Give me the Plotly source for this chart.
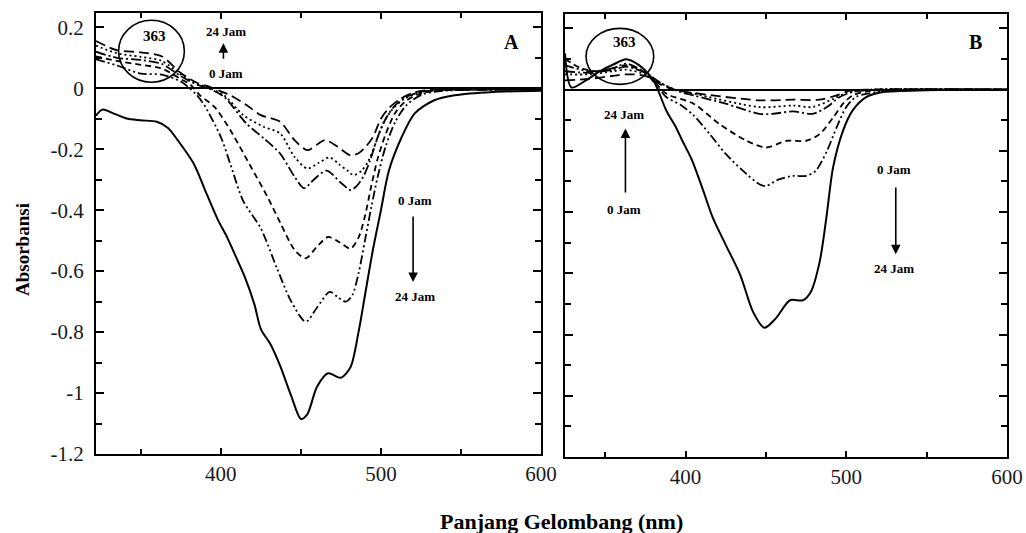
import plotly.graph_objects as go

# ---------------- Panel A data ----------------
A_solid_x = [322, 326, 334, 341, 350, 360, 367, 373, 383, 391, 398, 404, 410, 415, 421, 425, 431, 437, 444, 450,
             454, 460, 467, 475, 481, 486, 490, 495, 500, 505, 513, 521, 533, 546, 570, 600]
A_solid_y = [-0.09, -0.07, -0.085, -0.099, -0.105, -0.11, -0.13, -0.17, -0.247, -0.345, -0.43, -0.49, -0.56, -0.62,
             -0.71, -0.79, -0.84, -0.91, -1.01, -1.085, -1.07, -0.98, -0.935, -0.95, -0.915, -0.80, -0.68, -0.53,
             -0.40, -0.27, -0.16, -0.083, -0.04, -0.023, -0.012, -0.008]

A_dd_x = [322, 335, 350, 363, 375, 384, 389, 400, 406, 414, 425, 435, 444, 453, 460, 468, 473, 478, 482, 486,
          490, 494, 498, 503, 509, 516, 526, 540, 570, 600]
A_dd_y = [0.095, 0.075, 0.048, 0.045, 0.022, -0.017, -0.05, -0.16, -0.25, -0.37, -0.46, -0.59, -0.70, -0.766,
          -0.72, -0.668, -0.685, -0.70, -0.68, -0.608, -0.50, -0.39, -0.29, -0.19, -0.11, -0.055, -0.02, -0.008,
          -0.005, -0.004]

A_dash_x = [322, 335, 350, 363, 375, 381, 387, 396, 406, 419, 429, 437, 446, 453, 460, 467, 474, 481, 486, 490,
            494, 498, 503, 509, 516, 526, 540, 570, 600]
A_dash_y = [0.105, 0.09, 0.077, 0.065, 0.03, 0.012, -0.023, -0.061, -0.138, -0.26, -0.355, -0.44, -0.53, -0.558,
            -0.52, -0.488, -0.505, -0.526, -0.49, -0.42, -0.32, -0.23, -0.15, -0.08, -0.04, -0.015, -0.006, -0.004,
            -0.003]

A_ldd_x = [322, 335, 350, 363, 375, 385, 392, 402, 416, 427, 437, 446, 452, 458, 466, 475, 481, 485, 489, 493,
           498, 503, 509, 516, 525, 540, 570, 600]
A_ldd_y = [0.12, 0.10, 0.093, 0.08, 0.04, 0.012, 0.0, -0.028, -0.116, -0.165, -0.214, -0.29, -0.328, -0.30, -0.27,
           -0.31, -0.334, -0.32, -0.29, -0.24, -0.16, -0.10, -0.055, -0.028, -0.012, -0.005, -0.004, -0.003]

A_dot_x = [322, 335, 350, 363, 375, 385, 392, 402, 414, 427, 437, 446, 454, 461, 468, 474, 479, 483, 488, 492,
           496, 501, 507, 514, 522, 532, 560, 600]
A_dot_y = [0.14, 0.115, 0.103, 0.09, 0.045, 0.015, 0.003, -0.023, -0.088, -0.127, -0.148, -0.225, -0.263, -0.245,
           -0.227, -0.25, -0.27, -0.285, -0.27, -0.24, -0.19, -0.12, -0.07, -0.037, -0.017, -0.007, -0.004, -0.003]

A_ld_x = [322, 335, 350, 363, 375, 385, 393, 400, 406, 416, 425, 437, 446, 454, 460, 465, 473, 481, 486, 490,
          495, 500, 505, 512, 520, 530, 560, 600]
A_ld_y = [0.155, 0.125, 0.118, 0.105, 0.05, 0.018, 0.005, -0.01, -0.023, -0.055, -0.088, -0.11, -0.17, -0.203,
          -0.185, -0.17, -0.192, -0.22, -0.213, -0.195, -0.16, -0.10, -0.065, -0.035, -0.015, -0.006, -0.004, -0.003]

# ---------------- Panel B data ----------------
B_solid_x = [325, 329, 338, 346, 355, 363, 371, 380, 388, 394, 398, 404, 411, 417, 425, 434, 442, 449, 456, 465,
             473, 478, 483.5, 487.6, 491.8, 498, 504, 512.6, 523, 550, 600]
B_solid_y = [0.118, 0.007, 0.03, 0.058, 0.082, 0.099, 0.08, 0.03, -0.068, -0.123, -0.167, -0.23, -0.33, -0.419,
             -0.507, -0.605, -0.726, -0.778, -0.748, -0.688, -0.688, -0.66, -0.561, -0.419, -0.254, -0.134, -0.068,
             -0.024, -0.008, -0.002, 0.0]

B_dd_x = [325, 340, 355, 363, 375, 388, 397, 405, 415, 425, 438, 446, 450, 458, 467, 475, 481, 488, 494, 500,
          506, 519, 550, 600]
B_dd_y = [0.08, 0.06, 0.07, 0.085, 0.055, -0.024, -0.05, -0.084, -0.145, -0.21, -0.276, -0.309, -0.315, -0.293,
          -0.282, -0.282, -0.265, -0.2, -0.123, -0.057, -0.024, -0.008, 0.0, 0.0]

B_dash_x = [325, 335, 345, 355, 363, 375, 388, 405, 421, 438, 450, 463, 475, 483.5, 492, 498, 504, 515, 550, 600]
B_dash_y = [0.10, 0.07, 0.06, 0.07, 0.08, 0.055, -0.013, -0.046, -0.112, -0.167, -0.189, -0.167, -0.167, -0.145,
            -0.09, -0.046, -0.019, -0.004, 0.0, 0.0]

B_ldd_x = [325, 340, 355, 363, 375, 385, 395, 405, 425, 446, 454, 467, 479, 488, 496, 504, 520, 600]
B_ldd_y = [0.06, 0.055, 0.065, 0.075, 0.055, 0.02, -0.005, -0.019, -0.046, -0.079, -0.079, -0.071, -0.079,
           -0.057, -0.024, -0.008, 0.0, 0.0]

B_dot_x = [325, 340, 355, 363, 375, 385, 395, 405, 446, 467, 479, 492, 500, 515, 600]
B_dot_y = [0.05, 0.05, 0.06, 0.065, 0.05, 0.02, -0.002, -0.013, -0.057, -0.052, -0.057, -0.03, -0.011, 0.0, 0.0]

B_ld_x = [325, 340, 355, 363, 375, 385, 395, 405, 446, 467, 483, 494, 502, 515, 600]
B_ld_y = [0.03, 0.035, 0.045, 0.05, 0.045, 0.015, -0.003, -0.011, -0.035, -0.033, -0.033, -0.019, -0.004, 0.0, 0.0]

# ticks
x_major = [400, 500, 600]
x_major_text = ["400", "500", "600"]
x_minor = [350, 450, 550]
y_major = [0.2, 0, -0.2, -0.4, -0.6, -0.8, -1.0, -1.2]
y_major_text = ["0.2", "0", "-0.2", "-0.4", "-0.6", "-0.8", "-1", "-1.2"]
y_minor = [0.1, -0.1, -0.3, -0.5, -0.7, -0.9, -1.1]

W, H = 1026, 533
FONT = "Liberation Serif, Times New Roman, DejaVu Serif, serif"

DASH = {
    "solid": "solid",
    "dd": "9px,3px,2px,3px,2px,3px",
    "dash": "6px,4px",
    "ldd": "10px,3px,2px,3px",
    "dot": "2px,3px",
    "ld": "10px,5px",
}

fig = go.Figure()

panels = [
    ("x", "y", [(A_solid_x, A_solid_y, "solid"), (A_dd_x, A_dd_y, "dd"), (A_dash_x, A_dash_y, "dash"),
                (A_ldd_x, A_ldd_y, "ldd"), (A_dot_x, A_dot_y, "dot"), (A_ld_x, A_ld_y, "ld")]),
    ("x2", "y2", [(B_solid_x, B_solid_y, "solid"), (B_dd_x, B_dd_y, "dd"), (B_dash_x, B_dash_y, "dash"),
                  (B_ldd_x, B_ldd_y, "ldd"), (B_dot_x, B_dot_y, "dot"), (B_ld_x, B_ld_y, "ld")]),
]
for xa, ya, curves in panels:
    for xs, ys, st in curves:
        fig.add_trace(go.Scatter(
            x=xs, y=ys, mode="lines", xaxis=xa, yaxis=ya, showlegend=False, hoverinfo="skip",
            line=dict(color="black", width=2.0 if st == "solid" else 1.8, dash=DASH[st], shape="spline",
                      smoothing=0.8)))

axis_common = dict(showline=True, linecolor="black", linewidth=2, mirror="allticks", ticks="inside",
                   ticklen=8, tickwidth=1.5, tickcolor="black", showgrid=False, automargin=False,
                   tickfont=dict(family=FONT, size=21, color="#1a1a1a"))

xaxis_common = dict(axis_common, tickvals=x_major, ticktext=x_major_text, zeroline=False, ticklen=6,
                    minor=dict(tickvals=x_minor, ticks="inside", ticklen=5, tickwidth=1.5, tickcolor="black"))
yaxis_common = dict(axis_common, tickvals=y_major, ticktext=y_major_text, range=[-1.2, 0.247],
                    zeroline=True, zerolinecolor="black", zerolinewidth=1.6,
                    minor=dict(tickvals=y_minor, ticks="inside", ticklen=6, tickwidth=1.5, tickcolor="black"))

fig.update_layout(
    width=W, height=H, margin=dict(l=0, r=0, t=0, b=0, autoexpand=False),
    paper_bgcolor="white", plot_bgcolor="white",
    xaxis=dict(xaxis_common, domain=[96 / W, 541 / W], range=[322, 600], anchor="y"),
    yaxis=dict(yaxis_common, domain=[1 - 454 / H, 1 - 13 / H], anchor="x", ticklabelstandoff=6),
    xaxis2=dict(xaxis_common, domain=[565 / W, 1007 / W], range=[325, 600], anchor="y2"),
    yaxis2=dict(yaxis_common, domain=[1 - 457 / H, 1 - 14 / H], anchor="x2", showticklabels=False),
)

# circles around the 363 nm region
fig.add_shape(type="circle", xref="x", yref="y", x0=336.1, x1=377.2, y0=0.02, y1=0.223,
              line=dict(color="black", width=1.6))
fig.add_shape(type="circle", xref="x2", yref="y2", x0=338.1, x1=380.2, y0=0.017, y1=0.2,
              line=dict(color="black", width=1.6))

ann = []


def txt(x, y, s, xr, yr, size=13, bold=True):
    ann.append(dict(x=x, y=y, xref=xr, yref=yr, text=f"<b>{s}</b>" if bold else s, showarrow=False,
                    xanchor="center", yanchor="middle",
                    font=dict(family=FONT, size=size, color="black")))


def arrow(x, y0, y1, xr, yr):
    ann.append(dict(x=x, y=y1, ax=x, ay=y0, xref=xr, yref=yr, axref=xr, ayref=yr, text="", showarrow=True,
                    arrowhead=2, arrowsize=1.2, arrowwidth=1.6, arrowcolor="black"))


# Panel A
txt(358.4, 0.17, "363", "x", "y", 15)
txt(402.9, 0.187, "24 Jam", "x", "y")
arrow(401.6, 0.092, 0.148, "x", "y")
txt(402.9, 0.049, "0 Jam", "x", "y")
txt(521.4, -0.367, "0 Jam", "x", "y")
arrow(520.1, -0.416, -0.636, "x", "y")
txt(521.4, -0.682, "24 Jam", "x", "y")
txt(581.6, 0.151, "A", "x", "y", 20)

# Panel B
txt(362, 0.156, "363", "x2", "y2", 15)
txt(362, -0.081, "24 Jam", "x2", "y2")
arrow(362.6, -0.341, -0.127, "x2", "y2")
txt(362, -0.39, "0 Jam", "x2", "y2")
txt(529.6, -0.262, "0 Jam", "x2", "y2")
arrow(530.8, -0.315, -0.538, "x2", "y2")
txt(529.6, -0.584, "24 Jam", "x2", "y2")
txt(580.7, 0.156, "B", "x2", "y2", 20)

# axis titles
ann.append(dict(x=22 / W, y=1 - 250 / H, xref="paper", yref="paper", text="<b>Absorbansi</b>", textangle=-90,
                xanchor="center", yanchor="middle",
                showarrow=False, font=dict(family=FONT, size=19, color="black")))
ann.append(dict(x=561 / W, y=1 - 521 / H, xref="paper", yref="paper", text="<b>Panjang Gelombang (nm)</b>",
                xanchor="center", yanchor="middle",
                showarrow=False, font=dict(family=FONT, size=22, color="black")))

fig.update_layout(annotations=ann)
fig.write_html("out.html")
